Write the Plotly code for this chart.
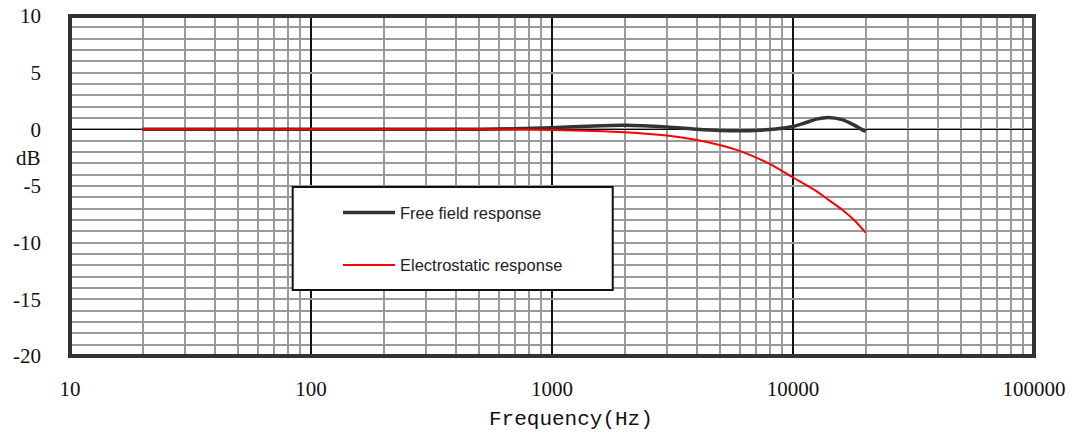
import plotly.graph_objects as go

# ---- data ----
freq_free = [20, 50, 100, 200, 500, 700, 1000, 1500, 2000, 3000, 4000, 5000, 6000,
             7000, 8000, 9000, 10000, 11000, 12500, 14000, 16000, 18000, 20000]
free_field = [0, 0, 0, 0, 0, 0.05, 0.15, 0.3, 0.35, 0.2, 0.0, -0.1, -0.12,
              -0.1, -0.02, 0.1, 0.25, 0.5, 0.9, 1.05, 0.85, 0.35, -0.2]

freq_es = [20, 50, 100, 200, 500, 700, 1000, 1500, 2000, 3000, 4000, 5000, 6000,
           8000, 10000, 12500, 14000, 16000, 18000, 20000]
electrostatic = [0, 0, 0, 0, 0, -0.02, -0.06, -0.14, -0.25, -0.55, -0.95, -1.4, -1.9,
                 -3.05, -4.25, -5.45, -6.2, -7.1, -8.05, -9.1]

x_ticks = [10, 100, 1000, 10000, 100000]
x_labels = ["10", "100", "1000", "10000", "100000"]
y_ticks = [10, 5, 0, -5, -10, -15, -20]
y_labels = ["10", "5", "0", "-5", "-10", "-15", "-20"]

GRID = "#9a9a9a"
serif = "Liberation Serif"

fig = go.Figure()
fig.add_trace(go.Scatter(x=freq_free, y=free_field, mode="lines", name="Free field response",
                         line=dict(color="#333333", width=3.5, shape="spline", smoothing=0.6),
                         legendgroup="a"))
fig.add_trace(go.Scatter(x=freq_es, y=electrostatic, mode="lines", name="Electrostatic response",
                         line=dict(color="#ff0000", width=2, shape="spline", smoothing=0.6),
                         legendgroup="b"))

fig.update_layout(
    width=1081, height=435,
    margin=dict(l=70, r=47, t=16, b=79, autoexpand=False),
    paper_bgcolor="white", plot_bgcolor="white",
    showlegend=True,
    legend=dict(x=0.278, y=0.4726, xanchor="left", yanchor="top",
                bgcolor="rgba(0,0,0,0)", borderwidth=0,
                font=dict(family="Liberation Sans", size=16.5, color="#222222"),
                itemwidth=52, tracegroupgap=28, traceorder="grouped"),
    xaxis=dict(type="log", range=[1, 5], tickvals=x_ticks, ticktext=x_labels,
               showgrid=True, gridcolor="#111111", gridwidth=1.5,
               minor=dict(dtick="D1", showgrid=True, gridcolor=GRID, gridwidth=1.5),
               zeroline=False, showline=False, ticks="", automargin=False,
               tickfont=dict(family=serif, size=21, color="#111111"),
               ticklabelstandoff=18),
    yaxis=dict(range=[-20, 10], tickvals=y_ticks, ticktext=y_labels,
               showgrid=True, gridcolor=GRID, gridwidth=1.5,
               minor=dict(dtick=1, showgrid=True, gridcolor=GRID, gridwidth=1.5),
               zeroline=True, zerolinecolor="#000000", zerolinewidth=1,
               showline=False, ticks="", automargin=False,
               tickfont=dict(family=serif, size=21, color="#111111"),
               ticklabelstandoff=28),
    shapes=[
        dict(type="rect", xref="paper", yref="paper", x0=0, x1=1, y0=0, y1=1,
             line=dict(color="#333333", width=4), layer="above"),
        dict(type="rect", xref="paper", yref="paper", x0=0.231, x1=0.563, y0=0.194, y1=0.497,
             line=dict(color="#111111", width=2), fillcolor="white", layer="above"),
    ],
    annotations=[
        dict(text="dB", xref="paper", yref="paper", x=-0.028, y=0.583, xanchor="right",
             yanchor="middle", showarrow=False,
             font=dict(family=serif, size=21, color="#111111")),
        dict(text="Frequency(Hz)", xref="paper", yref="paper", x=0.52, y=-0.188,
             xanchor="center", yanchor="middle", showarrow=False,
             font=dict(family="Liberation Mono", size=21, color="#111111")),
    ],
)

fig.write_html("out.html", config={"displayModeBar": False},
               post_script="document.body.style.margin='0';document.body.style.padding='0';")
